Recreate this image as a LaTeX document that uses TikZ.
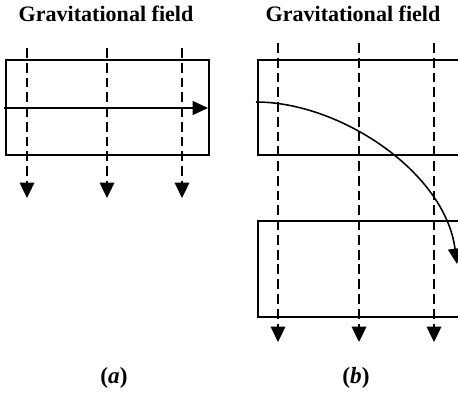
\documentclass[tikz,border=0pt]{standalone}
\usepackage{fontspec}
\setmainfont{Liberation Serif}
\usetikzlibrary{arrows.meta}

\tikzset{
  slab/.style={line width=0.9pt},
  fieldline/.style={line width=0.9pt, dash pattern=on 7pt off 3.5pt,
    -{Triangle[length=11pt,width=10.5pt]}},
  beam/.style={line width=1.1pt, -{Triangle[length=11pt,width=10pt]}},
  title/.style={font=\bfseries\fontsize{15.7}{18}\selectfont},
  caption/.style={font=\bfseries\fontsize{16.5}{18}\selectfont}
}

\begin{document}
\begin{tikzpicture}[x=0.025cm,y=-0.025cm]
\useasboundingbox (0,0) rectangle (458,393);
\clip (0,0) rectangle (458,393);

% Titles
\node[title] (titleA) at (106,14) {Gravitational field};
\node[title] (titleB) at (353,14) {Gravitational field};

% (a) one slab, straight beam
\draw[slab] (6,60) rectangle (209,155);
\foreach \x [count=\i] in {27,107,182} {
  \coordinate (fa\i) at (\x,48);
  \coordinate (ta\i) at (\x,198);
  \draw[fieldline] (fa\i) -- (ta\i);
}
\coordinate (inA) at (4,108);
\coordinate (outA) at (208,108);
\draw[beam] (inA) -- (outA);

% (b) two slabs, bent beam
\draw[slab] (258,60) rectangle (470,155);
\draw[slab] (258,221) rectangle (470,317);
\foreach \x [count=\i] in {278,359,434} {
  \coordinate (fb\i) at (\x,43);
  \coordinate (tb\i) at (\x,342);
  \draw[fieldline] (fb\i) -- (tb\i);
}
\coordinate (inB) at (256,102);
\coordinate (outB) at (457,264);
\draw[beam] (inB) .. controls (340,102) and (445,172) .. (outB);

% Captions
\node[caption] (capA) at (114,378) {(\textit{a})};
\node[caption] (capB) at (356,378) {(\textit{b})};

\end{tikzpicture}
\end{document}
